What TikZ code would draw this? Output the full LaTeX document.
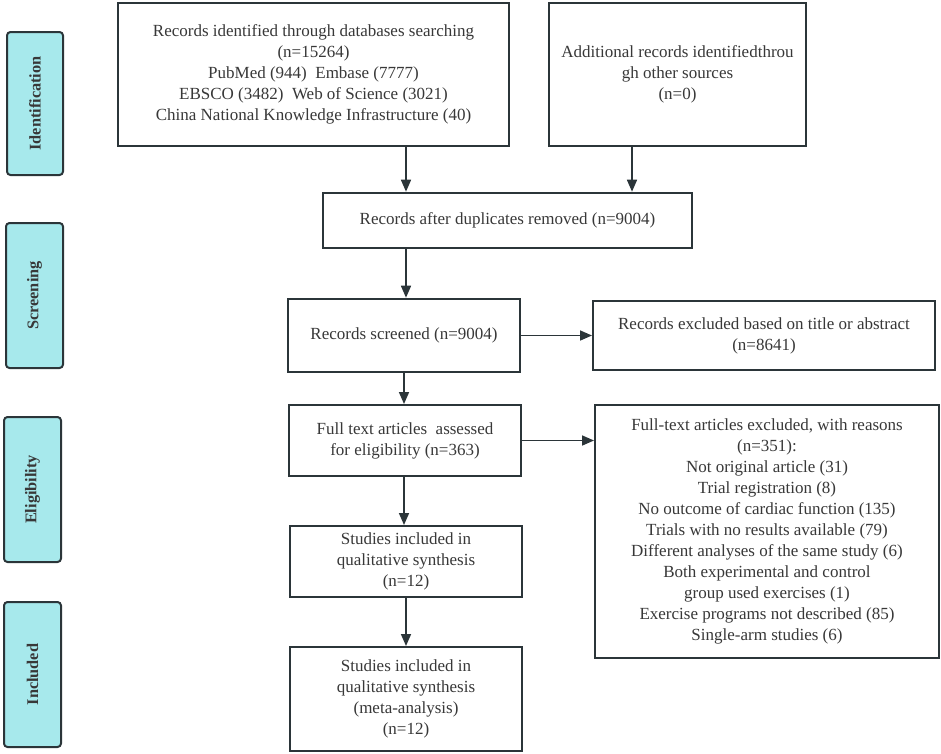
\documentclass[tikz,border=0pt]{standalone}
\usepackage{fontspec}
\setmainfont{Liberation Serif}
\usetikzlibrary{arrows.meta}
\definecolor{stagefill}{HTML}{A7E9EC}
\definecolor{edge}{HTML}{2B3539}
\definecolor{txt}{HTML}{383838}
\tikzset{
  stage/.style={draw=edge, line width=2pt, fill=stagefill, rounded corners=3.5pt,
    inner sep=0pt, text=txt, font=\fontsize{16.3}{19}\selectfont\bfseries},
  boxthick/.style={draw=edge, line width=2.6pt, fill=white, inner sep=0pt, align=center,
    text=txt, font=\fontsize{17}{21}\selectfont},
  boxthin/.style={boxthick, line width=2pt},
  arr/.style={draw=edge, line width=1.6pt, -{Triangle[length=12pt,width=10pt]}},
}
\begin{document}
\begin{tikzpicture}[x=1pt,y=-1pt]
\useasboundingbox (0,0) rectangle (941,753);
% stage labels
\node[stage, minimum width=56pt, minimum height=143pt] (id) at (35,103.5) {\rotatebox{90}{Identification}};
\node[stage, minimum width=57pt, minimum height=145pt] (sc) at (34.5,295.5) {\rotatebox{90}{Screening}};
\node[stage, minimum width=57pt, minimum height=145pt] (el) at (32.5,489.5) {\rotatebox{90}{Eligibility}};
\node[stage, minimum width=57pt, minimum height=145pt] (in) at (32.5,674.5) {\rotatebox{90}{Included}};
% flow boxes
\node[boxthick, minimum width=391pt, minimum height=143pt] (rec) at (313.5,74.5)
  {Records identified through databases searching\\(n=15264)\\PubMed (944)\ \ Embase (7777)\\EBSCO (3482)\ \ Web of Science (3021)\\China National Knowledge Infrastructure (40)};
\node[boxthick, minimum width=257pt, minimum height=143pt] (add) at (677.5,74.5)
  {Additional records identifiedthrou\\gh other sources\\(n=0)};
\node[boxthick, minimum width=369pt, minimum height=55pt] (dup) at (507.5,220.5)
  {Records after duplicates removed (n=9004)};
\node[boxthick, minimum width=232pt, minimum height=73pt] (scrn) at (404,335.5)
  {Records screened (n=9004)};
\node[boxthin, minimum width=342pt, minimum height=69pt] (ex1) at (764,335.5)
  {Records excluded based on title or abstract\\(n=8641)};
\node[boxthin, minimum width=232pt, minimum height=71pt] (full) at (405,440.5)
  {Full text articles\ \ assessed\\for eligibility (n=363)};
\node[boxthin, minimum width=344pt, minimum height=253pt] (ex2) at (767,531.5)
  {Full-text articles excluded, with reasons\\(n=351):\\Not original article (31)\\Trial registration (8)\\No outcome of cardiac function (135)\\Trials with no results available (79)\\Different analyses of the same study (6)\\Both experimental and control\\group used exercises (1)\\Exercise programs not described (85)\\Single-arm studies (6)};
\node[boxthin, minimum width=232pt, minimum height=71pt] (st1) at (406,561.5)
  {Studies included in\\qualitative synthesis\\(n=12)};
\node[boxthin, minimum width=232pt, minimum height=104pt] (st2) at (406,699)
  {Studies included in\\qualitative synthesis\\(meta-analysis)\\(n=12)};
% connectors
\draw[arr] ([xshift=92.5pt]rec.south) -- ([xshift=-101.5pt]dup.north);
\draw[arr] ([xshift=-45.5pt]add.south) -- ([xshift=124.5pt]dup.north);
\draw[arr] ([xshift=-101.5pt]dup.south) -- ([xshift=2pt]scrn.north);
\draw[arr] (scrn.east) -- (ex1.west);
\draw[arr] (scrn.south) -- ([xshift=-1pt]full.north);
\draw[arr] (full.east) -- (full.east -| ex2.west);
\draw[arr] ([xshift=-1pt]full.south) -- ([xshift=-2pt]st1.north);
\draw[arr] (st1.south) -- (st2.north);
\end{tikzpicture}
\end{document}
